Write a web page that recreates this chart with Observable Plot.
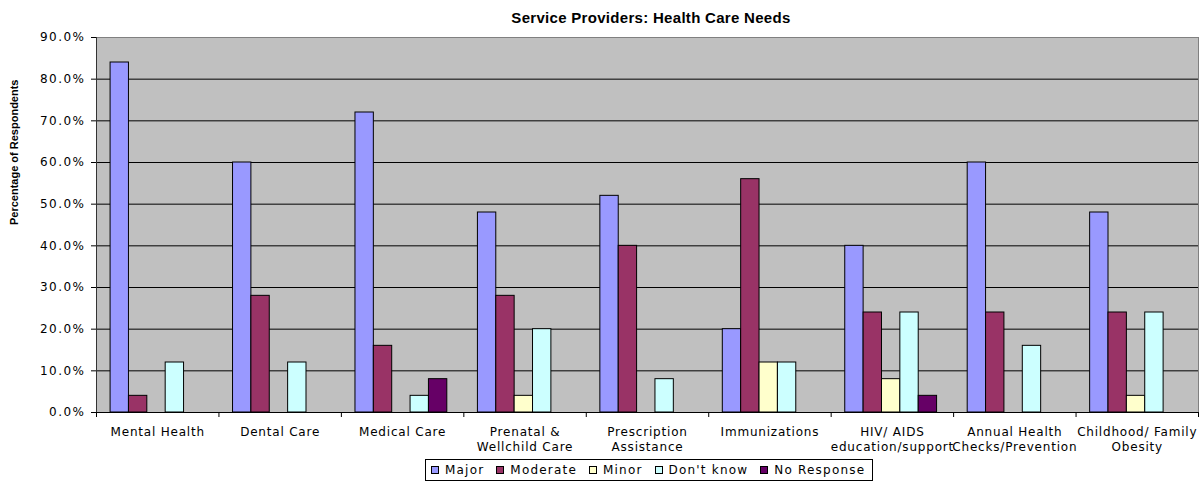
<!DOCTYPE html>
<html>
<head>
<meta charset="utf-8">
<script src="https://cdn.jsdelivr.net/npm/d3@7"></script>
<script src="https://cdn.jsdelivr.net/npm/@observablehq/plot@0.6"></script>
<style>
  body { margin: 0; background: #fff; }
  #chart { position: relative; width: 1203px; height: 481px; overflow: hidden; }
  #plot { position: absolute; left: 0; top: 0; }
  #title { position: absolute; left: 96px; width: 1110px; top: 9px; line-height: 18px; text-align: center;
           font: bold 15px "Liberation Sans", Arial, sans-serif; letter-spacing: 0.3px; color: #000; }
  #legend { position: absolute; left: 425px; top: 459px; height: 20px; border: 1px solid #000; background: #fff;
            display: flex; align-items: center; padding: 0 7px 0 5px;
            font: 12px "DejaVu Sans", sans-serif; letter-spacing: 1.2px; color: #000; white-space: nowrap; }
  .item { display: flex; align-items: center; margin-right: 12px; }
  .item:last-child { margin-right: 0; }
  .sw { width: 6px; height: 6px; border: 1px solid #000; margin-right: 6px; }
  g[aria-label="y-axis tick label"] { letter-spacing: 1.5px; }
  g[aria-label="x-axis tick label"] { letter-spacing: 0.8px; }
</style>
</head>
<body>
<div id="chart">
  <div id="plot"></div>
  <div id="title">Service Providers: Health Care Needs</div>
  <div id="legend"></div>
</div>
<script>
// ---- data ----
const categories = [
  "Mental Health",
  "Dental Care",
  "Medical Care",
  "Prenatal &\nWellchild Care",
  "Prescription\nAssistance",
  "Immunizations",
  "HIV/ AIDS\neducation/support",
  "Annual Health\nChecks/Prevention",
  "Childhood/ Family\nObesity"
];
const seriesNames = ["Major", "Moderate", "Minor", "Don't know", "No Response"];
const seriesColors = ["#9999FF", "#993366", "#FFFFCC", "#CCFFFF", "#660066"];
const major      = [84, 60, 72, 48, 52, 20, 40, 60, 48];
const moderate   = [4, 28, 16, 28, 40, 56, 24, 24, 24];
const minor      = [0, 0, 0, 4, 0, 12, 8, 0, 4];
const dontKnow   = [12, 12, 4, 20, 8, 12, 24, 16, 24];
const noResponse = [0, 0, 8, 0, 0, 0, 4, 0, 0];
const yTicks = [0, 10, 20, 30, 40, 50, 60, 70, 80, 90];
const yTitle = "Percentage of Respondents";

const seriesValues = [major, moderate, minor, dontKnow, noResponse];
const rows = [];
seriesNames.forEach((s, si) => {
  categories.forEach((c, ci) => {
    rows.push({ci, si, category: c, series: s, value: seriesValues[si][ci]});
  });
});

// group layout in category units
const barW = 0.15;
const groupPad = 0.115;
const x1 = d => d.ci + groupPad + d.si * barW;
const x2 = d => x1(d) + barW;

const chart = Plot.plot({
  width: 1203,
  height: 458,
  marginTop: 37,
  marginBottom: 46,
  marginLeft: 96,
  marginRight: 5,
  style: {fontFamily: "DejaVu Sans, sans-serif", fontSize: "12px", background: "transparent", color: "#000"},
  x: {type: "linear", domain: [0, categories.length]},
  y: {domain: [yTicks[0], yTicks[yTicks.length - 1]]},
  color: {type: "ordinal", domain: seriesNames, range: seriesColors},
  marks: [
    Plot.frame({fill: "#C0C0C0", stroke: "#808080"}),
    Plot.ruleY(yTicks.slice(1, -1), {stroke: "#000"}),
    Plot.rectY(rows.filter(d => d.value > 0), {x1, x2, y: "value", fill: "series", stroke: "#000", strokeWidth: 1}),
    Plot.ruleX([0], {stroke: "#333"}),
    Plot.ruleY([0], {stroke: "#000"}),
    Plot.axisY({ticks: yTicks, tickFormat: d => d.toFixed(1) + "%", tickSize: 5, tickPadding: 6, label: null}),
    Plot.axisX({ticks: d3.range(categories.length + 1), tickSize: 5, tickFormat: () => "", label: null}),
    Plot.axisX({ticks: categories.map((c, i) => i + 0.5), tickFormat: d => categories[Math.round(d - 0.5)],
                tickSize: 0, tickPadding: 13, lineHeight: 1.25, label: null}),
    Plot.text([yTitle], {text: d => d, frameAnchor: "left", rotate: -90, dx: -82,
                         fontSize: 11, fontWeight: "bold", fontFamily: "Liberation Sans, Arial, sans-serif"})
  ]
});
document.getElementById("plot").appendChild(chart);

// legend
const legend = document.getElementById("legend");
seriesNames.forEach((s, i) => {
  const item = document.createElement("div");
  item.className = "item";
  const sw = document.createElement("span");
  sw.className = "sw";
  sw.style.background = seriesColors[i];
  const lab = document.createElement("span");
  lab.textContent = s;
  item.appendChild(sw);
  item.appendChild(lab);
  legend.appendChild(item);
});
</script>
</body>
</html>
